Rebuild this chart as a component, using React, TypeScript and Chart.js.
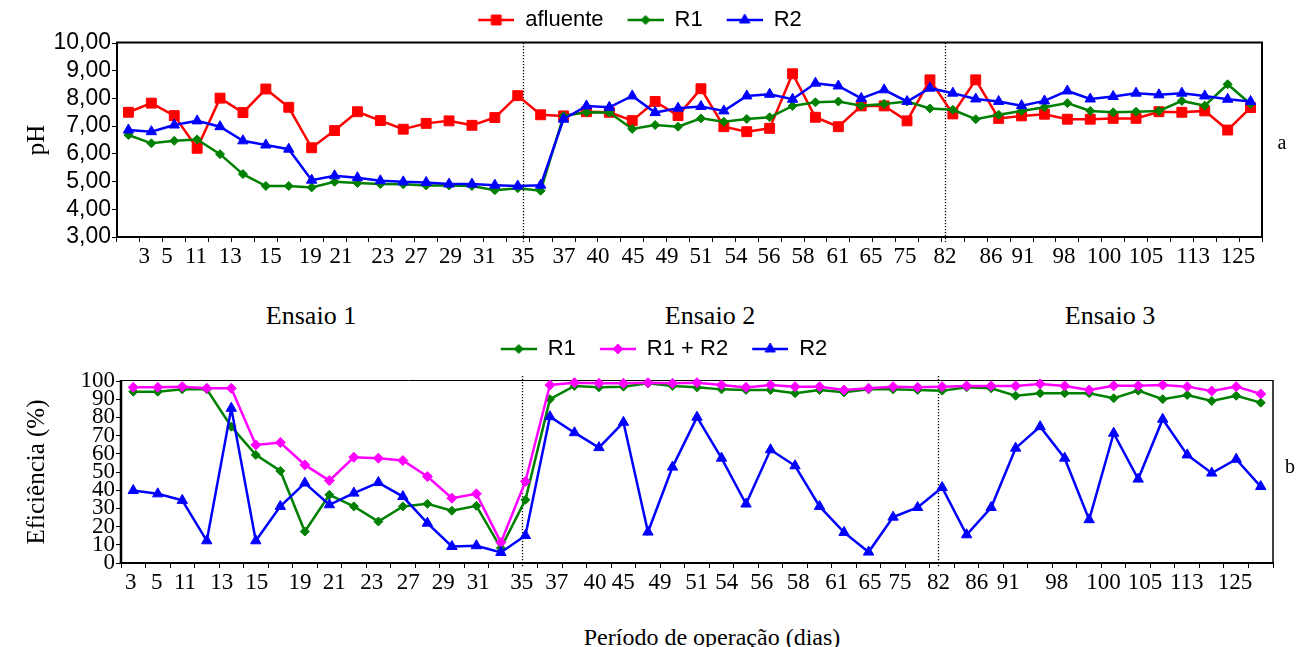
import React, { useEffect, useRef } from 'react';
import { Chart, registerables } from 'chart.js';

Chart.register(...registerables);

const SERIF = '"Liberation Serif", "Times New Roman", Times, serif';
const SANS = '"Liberation Sans", Arial, Helvetica, sans-serif';

// Day labels written under both panels
const dayLabels = ['3', '5', '11', '13', '15', '19', '21', '23', '27', '29', '31', '35', '37', '40', '45', '49', '51', '54', '56', '58', '61', '65', '75', '82', '86', '91', '98', '100', '105', '113', '125'];
// where each day label sits along each panel's sample axis (sample-index units)
const phDayAt = [0.69, 1.68, 2.95, 4.45, 6.19, 7.94, 9.28, 11.1, 12.56, 14.06, 15.54, 17.23, 19.02, 20.5, 22.03, 23.52, 25.0, 26.53, 27.97, 29.46, 30.98, 32.43, 33.91, 35.66, 37.67, 39.06, 40.85, 42.6, 44.43, 46.49, 48.45];
const effDayAt = [-0.1, 0.96, 2.11, 3.61, 5.04, 6.8, 8.2, 9.73, 11.22, 12.65, 14.08, 15.85, 17.28, 18.84, 19.99, 21.49, 22.99, 24.21, 25.64, 27.13, 28.7, 30.06, 31.28, 32.85, 34.41, 35.7, 37.68, 39.58, 41.28, 42.98, 44.95];
// days where Ensaio 2 and Ensaio 3 begin
const ensaioBreaks = ['35', '82'];
const ensaioNames = ['Ensaio 1', 'Ensaio 2', 'Ensaio 3'];

// Panel a: pH
const phAfluente = [7.50, 7.83, 7.38, 6.20, 8.01, 7.49, 8.34, 7.68, 6.22, 6.84, 7.52, 7.20, 6.89, 7.10, 7.19, 7.03, 7.31, 8.10,
  7.41, 7.37, 7.52, 7.50, 7.20, 7.89, 7.38, 8.35, 6.98, 6.80, 6.92, 8.89, 7.32, 6.98, 7.73, 7.73, 7.19,
  8.67, 7.44, 8.67, 7.28, 7.37, 7.43, 7.25, 7.25, 7.28, 7.28, 7.52, 7.50, 7.55, 6.86, 7.67];
const phR1 = [6.68, 6.38, 6.47, 6.52, 5.99, 5.27, 4.84, 4.84, 4.79, 4.99, 4.95, 4.91, 4.90, 4.86, 4.86, 4.84, 4.69, 4.76,
  4.67, 7.37, 7.50, 7.49, 6.90, 7.04, 6.98, 7.28, 7.16, 7.26, 7.32, 7.73, 7.86, 7.89, 7.74, 7.80, 7.89,
  7.64, 7.59, 7.25, 7.41, 7.55, 7.68, 7.83, 7.55, 7.50, 7.52, 7.55, 7.91, 7.74, 8.51, 7.80];
const phR2 = [6.86, 6.80, 7.04, 7.19, 6.98, 6.47, 6.32, 6.17, 5.05, 5.21, 5.14, 5.03, 4.99, 4.97, 4.91, 4.91, 4.87, 4.84,
  4.87, 7.25, 7.73, 7.68, 8.09, 7.49, 7.65, 7.71, 7.55, 8.09, 8.15, 7.97, 8.55, 8.45, 8.00, 8.31, 7.89,
  8.37, 8.19, 7.98, 7.89, 7.74, 7.91, 8.27, 7.98, 8.07, 8.19, 8.13, 8.19, 8.09, 7.97, 7.89];

// Panel b: efficiency (%)
const effR1 = [94.1, 94.1, 95.4, 95.4, 74.9, 59.4, 50.6, 17.3, 37.5, 31.1, 22.8, 31.1, 32.5, 28.7, 31.4, 8.2,
  34.7, 90.0, 97.3, 96.5, 96.9, 98.7, 97.3, 96.5, 95.4, 95.1, 95.1, 93.3, 95.1, 93.8, 95.4, 95.4, 95.1,
  94.7, 96.5, 96.0, 91.9, 93.3, 93.3, 93.3, 90.5, 94.7, 90.0, 92.3, 89.0, 91.9, 88.1];
const effR1R2 = [96.5, 96.5, 96.9, 96.0, 96.0, 64.9, 66.2, 53.9, 45.3, 58.1, 57.6, 56.3, 47.5, 35.6, 38.0, 11.3,
  44.8, 97.8, 99.1, 98.7, 98.7, 99.1, 98.7, 99.1, 97.8, 96.5, 97.8, 96.9, 96.9, 95.1, 96.0, 96.9, 96.5,
  96.9, 97.3, 97.3, 97.3, 98.4, 97.3, 95.1, 97.4, 97.4, 97.8, 96.9, 94.5, 96.9, 92.9];
const effR2 = [39.8, 38.0, 34.4, 12.2, 85.0, 12.2, 31.1, 43.9, 32.0, 38.4, 44.2, 36.5, 21.9, 9.1, 9.5, 5.8,
  15.1, 80.4, 71.6, 63.4, 77.3, 17.0, 52.7, 80.1, 57.6, 32.4, 62.2, 53.4, 31.1, 16.8, 6.0, 25.2, 30.5,
  41.5, 15.5, 30.5, 63.1, 74.9, 57.6, 23.8, 71.3, 46.1, 79.0, 59.4, 49.4, 57.0, 42.0];

const phSamples = phAfluente.map((_, i) => String(i + 1));
const effSamples = effR1.map((_, i) => String(i + 1));

const RED = '#FF0000';
const GREEN = '#008000';
const BLUE = '#0000FF';
const MAGENTA = '#FF00FF';

type Shape = 'rect' | 'rectRot' | 'triangle';

function legendIcon(color: string, shape: Shape, r: number, gap: number): HTMLCanvasElement {
  const w = gap + 36;
  const h = 20;
  const c = document.createElement('canvas');
  c.width = w;
  c.height = h;
  const ctx = c.getContext('2d') as CanvasRenderingContext2D;
  ctx.strokeStyle = color;
  ctx.lineWidth = 2.5;
  ctx.beginPath();
  ctx.moveTo(gap, h / 2);
  ctx.lineTo(w, h / 2);
  ctx.stroke();
  const cx = gap + 18;
  const cy = h / 2;
  ctx.fillStyle = color;
  ctx.lineWidth = 1;
  ctx.beginPath();
  if (shape === 'rect') {
    const s = r * Math.SQRT1_2;
    ctx.rect(cx - s, cy - s, 2 * s, 2 * s);
  } else if (shape === 'rectRot') {
    ctx.moveTo(cx, cy - r);
    ctx.lineTo(cx + r, cy);
    ctx.lineTo(cx, cy + r);
    ctx.lineTo(cx - r, cy);
    ctx.closePath();
  } else {
    ctx.moveTo(cx, cy - r);
    ctx.lineTo(cx + r * 0.866, cy + r * 0.5);
    ctx.lineTo(cx - r * 0.866, cy + r * 0.5);
    ctx.closePath();
  }
  ctx.fill();
  ctx.stroke();
  return c;
}

const framePlugin = {
  id: 'frame',
  beforeDatasetsDraw(chart: any, _args: any, opts: any) {
    const { ctx, chartArea } = chart;
    const { left, right, top, bottom } = chartArea;
    const lab = chart.scales.x2;
    ctx.save();
    ctx.strokeStyle = '#000';
    ctx.lineWidth = 1.3;
    ctx.setLineDash([1.3, 1.7]);
    for (const d of ensaioBreaks) {
      const i = dayLabels.indexOf(d);
      const px = Math.round(lab.getPixelForValue(opts.at[i])) + 0.5;
      ctx.beginPath();
      ctx.moveTo(px, top - (opts.over || 0));
      ctx.lineTo(px, bottom + 5);
      ctx.stroke();
    }
    ctx.setLineDash([]);
    const w = opts.widths; // top, right, bottom, left
    const seg = (lw: number, x1: number, y1: number, x2: number, y2: number) => {
      ctx.lineWidth = lw;
      ctx.beginPath();
      ctx.moveTo(x1, y1);
      ctx.lineTo(x2, y2);
      ctx.stroke();
    };
    seg(w[0], left - w[3] / 2, top - 0.5, right + w[1] / 2, top - 0.5);
    seg(w[1], right, top, right, bottom);
    seg(w[2], left - w[3] / 2, bottom, right + w[1] / 2, bottom);
    seg(w[3], left, top - w[0] / 2, left, bottom + w[2] / 2);
    ctx.restore();
  },
};

const legendGap = (extra: number) => ({
  id: 'legendGap',
  beforeInit(chart: any) {
    const lg = chart.legend;
    if (!lg) return;
    const fit = lg.fit;
    lg.fit = function () {
      fit.call(this);
      this.height += extra;
    };
  },
});

function lineSet(label: string, data: number[], color: string, shape: Shape, r: number, order: number) {
  return {
    label,
    data,
    borderColor: color,
    backgroundColor: color,
    borderWidth: 2.5,
    pointStyle: shape,
    pointRadius: r,
    pointHoverRadius: r,
    pointBorderWidth: 1,
    pointBackgroundColor: color,
    pointBorderColor: color,
    tension: 0,
    order,
    clip: false as any,
  };
}

function legendOptions(icons: HTMLCanvasElement[]) {
  return {
    display: true,
    position: 'top' as const,
    labels: {
      usePointStyle: true,
      pointStyleWidth: icons[0].width,
      padding: 8,
      color: '#000',
      font: { family: SANS, size: 22 },
      sort: (a: any, b: any) => a.datasetIndex - b.datasetIndex,
      generateLabels: (chart: any) =>
        (Chart.defaults.plugins.legend.labels as any).generateLabels(chart).map((item: any) => ({
          ...item,
          pointStyle: icons[item.datasetIndex],
        })),
    },
  };
}

function labelAxis(at: number[], n: number) {
  return {
    type: 'linear' as const,
    position: 'bottom' as const,
    weight: 1,
    min: -0.5,
    max: n - 0.5,
    afterBuildTicks: (s: any) => {
      s.ticks = at.map((v) => ({ value: v }));
    },
    ticks: {
      autoSkip: false,
      maxRotation: 0,
      minRotation: 0,
      padding: 0,
      color: '#000',
      font: { family: SERIF, size: 23 },
      callback: (_v: any, i: number) => dayLabels[i],
    },
    grid: { display: false, drawTicks: false },
    border: { display: false },
    afterFit: (s: any) => {
      s.height = 40;
    },
  };
}

function sampleAxis() {
  return {
    type: 'category' as const,
    offset: true,
    ticks: { display: false, autoSkip: false },
    grid: { display: true, drawOnChartArea: false, drawTicks: true, tickLength: 5, offset: true, color: '#000', lineWidth: 1 },
    border: { display: false },
    afterFit: (s: any) => {
      s.height = 6;
    },
  };
}

export default function App() {
  const topRef = useRef<HTMLCanvasElement>(null);
  const botRef = useRef<HTMLCanvasElement>(null);

  useEffect(() => {
    Chart.defaults.color = '#000';
    Chart.defaults.font.family = SERIF;

    const gap = 16;
    const topIcons = [
      legendIcon(RED, 'rect', 7, gap),
      legendIcon(GREEN, 'rectRot', 4.5, gap),
      legendIcon(BLUE, 'triangle', 6, gap),
    ];
    const botIcons = [
      legendIcon(GREEN, 'rectRot', 4.5, gap),
      legendIcon(MAGENTA, 'rectRot', 5, gap),
      legendIcon(BLUE, 'triangle', 6, gap),
    ];

    const top = new Chart(topRef.current as HTMLCanvasElement, {
      type: 'line',
      data: {
        labels: phSamples,
        datasets: [
          lineSet('afluente', phAfluente, RED, 'rect', 7, 3),
          lineSet('R1', phR1, GREEN, 'rectRot', 4.5, 2),
          lineSet('R2', phR2, BLUE, 'triangle', 6, 1),
        ] as any,
      },
      options: {
        responsive: false,
        animation: false,
        events: [],
        layout: { padding: { left: 2, right: 34, top: 1, bottom: 0 } },
        plugins: {
          legend: legendOptions(topIcons) as any,
          tooltip: { enabled: false },
          frame: { at: phDayAt, widths: [2, 2, 2, 2], over: 0 },
        } as any,
        scales: {
          x: sampleAxis() as any,
          x2: labelAxis(phDayAt, phSamples.length) as any,
          y: {
            min: 3,
            max: 10,
            ticks: {
              stepSize: 1,
              autoSkip: false,
              padding: 1,
              color: '#000',
              font: { family: SANS, size: 23 },
              callback: (v: any) => Number(v).toFixed(2).replace('.', ','),
            },
            grid: { drawOnChartArea: false, drawTicks: true, tickLength: 5, color: '#000' },
            border: { display: false },
            title: { display: true, text: 'pH', color: '#000', font: { family: SERIF, size: 25 }, padding: { top: 20, bottom: 0 } },
            afterFit: (s: any) => {
              s.width = 115;
            },
          } as any,
        },
      },
      plugins: [framePlugin, legendGap(2)] as any,
    });

    const bot = new Chart(botRef.current as HTMLCanvasElement, {
      type: 'line',
      data: {
        labels: effSamples,
        datasets: [
          lineSet('R1', effR1, GREEN, 'rectRot', 4.5, 3),
          lineSet('R1 + R2', effR1R2, MAGENTA, 'rectRot', 5, 2),
          lineSet('R2', effR2, BLUE, 'triangle', 6, 1),
        ] as any,
      },
      options: {
        responsive: false,
        animation: false,
        events: [],
        layout: { padding: { left: 39, right: 23, top: 0, bottom: 0 } },
        plugins: {
          legend: legendOptions(botIcons) as any,
          tooltip: { enabled: false },
          frame: { at: effDayAt, widths: [1, 1.5, 2, 2.5], over: 5 },
        } as any,
        scales: {
          x: sampleAxis() as any,
          x2: labelAxis(effDayAt, effSamples.length) as any,
          y: {
            min: 0,
            max: 100,
            ticks: {
              stepSize: 10,
              autoSkip: false,
              padding: 1,
              color: '#000',
              font: { family: SERIF, size: 23 },
            },
            grid: { drawOnChartArea: false, drawTicks: true, tickLength: 5, color: '#000' },
            border: { display: false },
            title: { display: true, text: 'Eficiência (%)', color: '#000', font: { family: SERIF, size: 25 }, padding: { top: -17, bottom: 0 } },
            afterFit: (s: any) => {
              s.width = 82;
            },
          } as any,
        },
      },
      plugins: [framePlugin, legendGap(11)] as any,
    });

    return () => {
      top.destroy();
      bot.destroy();
    };
  }, []);

  const text = (content: string, cx: number, cy: number, size: number) => (
    <div
      key={content}
      style={{
        position: 'absolute',
        left: cx,
        top: cy - size / 2,
        transform: 'translateX(-50%)',
        fontFamily: SERIF,
        fontSize: size,
        lineHeight: `${size}px`,
        whiteSpace: 'nowrap',
        color: '#000',
      }}
    >
      {content}
    </div>
  );

  return (
    <div style={{ position: 'absolute', left: 0, top: 0, width: 1296, height: 647, background: '#fff', overflow: 'hidden' }}>
      <canvas ref={topRef} width={1296} height={283} style={{ position: 'absolute', left: 0, top: 0, width: 1296, height: 283 }} />
      <canvas ref={botRef} width={1296} height={279} style={{ position: 'absolute', left: 0, top: 330, width: 1296, height: 279 }} />
      {text(ensaioNames[0], 311, 316, 26)}
      {text(ensaioNames[1], 710, 316, 26)}
      {text(ensaioNames[2], 1110, 316, 26)}
      {text('a', 1282, 142, 20)}
      {text('b', 1290, 466, 20)}
      {text('Período de operação (dias)', 712, 637, 24)}
    </div>
  );
}
